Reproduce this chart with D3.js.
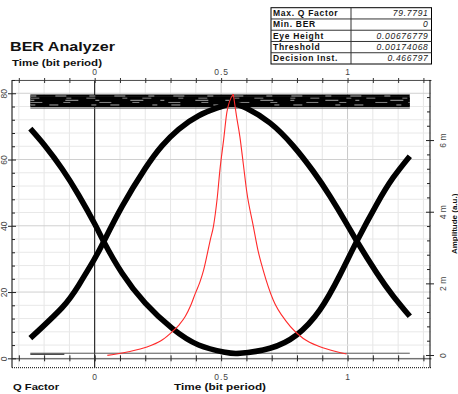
<!DOCTYPE html>
<html>
<head>
<meta charset="utf-8">
<script src="https://cdn.jsdelivr.net/npm/d3@7"></script>
<style>
  body { margin: 0; background: #fff; overflow: hidden; }
  svg { display: block; font-family: "Liberation Sans", Arial, sans-serif; }
</style>
</head>
<body>
<div id="chart"></div>
<script>
// values
const tableLabels = ['Max. Q Factor', 'Min. BER', 'Eye Height', 'Threshold', 'Decision Inst.'];
const tableValues = ['79.7791', '0', '0.00676779', '0.00174068', '0.466797'];

const timeLabels = [0, 0.5, 1];
const qLabels = [0, 20, 40, 60, 80];
const ampLabels = [0, 2, 4, 6];   // in m (milli a.u.)

// Q factor against decision time (red curve, left axis)
const qTime  = [0.050, 0.092, 0.134, 0.180, 0.227, 0.268, 0.306, 0.335, 0.358, 0.380, 0.398, 0.416, 0.431, 0.457, 0.470, 0.484, 0.496, 0.510, 0.523, 0.548,
                0.561, 0.574, 0.588, 0.601, 0.627, 0.646, 0.666, 0.706, 0.759, 0.825, 0.891, 0.957, 0.996];
const qValue = [0.9, 1.4, 2.0, 2.8, 4.0, 5.6, 8.0, 10.2, 12.6, 16.0, 19.6, 23.0, 26.7, 35.7, 40.0, 48.0, 57.4, 66.0, 74.4, 79.78,
                73.0, 67.0, 58.5, 50.5, 40.0, 32.5, 26.7, 17.6, 11.0, 6.0, 3.5, 2.0, 1.3];

// eye traces (right axis, m a.u.)
const traceATime = [-0.2545, -0.1953, -0.1292, -0.0632, 0.0024, 0.0356, 0.1079, 0.2, 0.3055, 0.4111, 0.515, 0.5743, 0.6929, 0.7984, 0.8906, 0.9696, 1.0356, 1.1146, 1.1802, 1.2462];
const traceAAmp  = [6.32, 5.83, 5.20, 4.46, 3.63, 3.17, 2.29, 1.45, 0.75, 0.28, 0.075, 0.047, 0.19, 0.56, 1.26, 2.23, 3.16, 4.2, 4.95, 5.55];
const traceBTime = [-0.2545, -0.1292, -0.0632, -0.004, 0.0356, 0.1079, 0.2, 0.266, 0.332, 0.4111, 0.4901, 0.5427, 0.6008, 0.6929, 0.785, 0.864, 0.93, 0.996, 1.0356, 1.1146, 1.1802, 1.2462];
const traceBAmp  = [0.47, 1.32, 1.95, 2.64, 3.16, 4.14, 5.21, 5.84, 6.30, 6.68, 6.91, 7.01, 6.89, 6.48, 5.84, 5.13, 4.44, 3.67, 3.19, 2.30, 1.65, 1.08];

const railSpan = [-0.2545, 1.2462];
const railOneLevels = [7.24, 7.19, 7.14, 7.09, 7.04, 6.99, 6.95];
const railOneEdge = 6.89;
const railZero = 0.05;
const streakLevels = [7.23, 7.17, 7.11, 7.05, 6.98];

const W = 458, H = 394;
const svg = d3.select('#chart').append('svg')
  .attr('width', W).attr('height', H);

const plot = { left: 12, right: 431, top: 80, bottom: 367.7 };

const x = d3.scaleLinear([-0.327, 1.330], [plot.left, plot.right]);
const yQ = d3.scaleLinear([-2.83, 84], [plot.bottom, plot.top]);
const yA = d3.scaleLinear([-0.354, 7.677], [plot.bottom, plot.top]);

// grid
const vGrid = d3.range(-3, 14).map(d => d / 10);
const hGrid = d3.range(0, 85, 4);
svg.append('g').selectAll('line').data(vGrid).join('line')
  .attr('x1', d => x(d)).attr('x2', d => x(d))
  .attr('y1', plot.top).attr('y2', plot.bottom)
  .attr('stroke', d => Math.abs(d * 10 % 5) < 1e-6 ? '#c8c8c8' : '#e6e6e6');
svg.append('g').selectAll('line').data(hGrid).join('line')
  .attr('x1', plot.left).attr('x2', plot.right)
  .attr('y1', d => yQ(d)).attr('y2', d => yQ(d))
  .attr('stroke', d => d % 20 === 0 ? '#d0d0d0' : '#e8e8e8');

// zero time line
svg.append('line')
  .attr('x1', x(0)).attr('x2', x(0))
  .attr('y1', plot.top).attr('y2', plot.bottom)
  .attr('stroke', '#111');

// rails
const rails = svg.append('g');
rails.selectAll('line.one').data(railOneLevels).join('line')
  .attr('class', 'one')
  .attr('x1', x(railSpan[0])).attr('x2', x(railSpan[1]))
  .attr('y1', d => yA(d)).attr('y2', d => yA(d))
  .attr('stroke', '#000').attr('stroke-width', 2.4);
rails.append('line')
  .attr('x1', x(railSpan[0])).attr('x2', x(railSpan[1]))
  .attr('y1', yA(railOneEdge)).attr('y2', yA(railOneEdge))
  .attr('stroke', '#666').attr('stroke-width', 1);
rails.selectAll('line.streak').data(streakLevels).join('line')
  .attr('class', 'streak')
  .attr('x1', x(railSpan[0])).attr('x2', x(railSpan[1]))
  .attr('y1', d => yA(d)).attr('y2', d => yA(d))
  .attr('stroke', (d, i) => i % 2 ? '#bbb' : '#eee').attr('stroke-width', 0.7)
  .attr('stroke-dasharray', (d, i) => ['6 19 11 23', '9 27 5 15', '4 31 13 17', '12 21 7 29', '5 14 9 33'][i]);
rails.append('line')
  .attr('x1', x(railSpan[0])).attr('x2', x(railSpan[1]))
  .attr('y1', yA(railZero)).attr('y2', yA(railZero))
  .attr('stroke', '#555').attr('stroke-width', 1);
rails.append('line')
  .attr('x1', x(railSpan[0])).attr('x2', x(-0.12))
  .attr('y1', yA(railZero) + 1).attr('y2', yA(railZero) + 1)
  .attr('stroke', '#111').attr('stroke-width', 1.2);

// eye traces
const eyeLine = d3.line().curve(d3.curveNatural);
const traces = [
  d3.zip(traceATime, traceAAmp),
  d3.zip(traceBTime, traceBAmp)
];
svg.append('g').selectAll('path').data(traces).join('path')
  .attr('d', d => eyeLine(d.map(p => [x(p[0]), yA(p[1])])))
  .attr('fill', 'none')
  .attr('stroke', '#000')
  .attr('stroke-width', 5.6);

// Q factor curve, drawn in two halves so the peak stays sharp
const peak = d3.maxIndex(qValue);
const qPts = d3.zip(qTime, qValue).map(p => [x(p[0]), yQ(p[1])]);
const qLine = d3.line().curve(d3.curveMonotoneX);
svg.append('g').selectAll('path').data([qPts.slice(0, peak + 1), qPts.slice(peak)]).join('path')
  .attr('d', qLine)
  .attr('fill', 'none')
  .attr('stroke', '#ff2a2a')
  .attr('stroke-width', 1.1);

// axes
const fmtT = d => timeLabels.some(v => Math.abs(v - d) < 1e-6) ? d3.format('~g')(d) : '';
const tTicks = d3.range(-3, 14).map(d => d / 10);

const topAxis = svg.append('g')
  .attr('transform', `translate(0,${plot.top})`)
  .call(d3.axisTop(x).tickValues(tTicks).tickFormat(fmtT).tickSizeInner(3).tickSizeOuter(0).tickPadding(2));
topAxis.select('.domain').attr('stroke', '#555');
topAxis.selectAll('.tick line').attr('y2', 3).attr('y1', -2).attr('stroke', '#333');

const bottomAxis = svg.append('g')
  .attr('transform', `translate(0,${yQ(0)})`)
  .call(d3.axisBottom(x).tickValues(tTicks).tickFormat(fmtT).tickSizeInner(3).tickSizeOuter(0).tickPadding(13));
bottomAxis.select('.domain').attr('stroke', '#444');
bottomAxis.selectAll('.tick line').attr('y1', -3).attr('stroke', '#222');

// bottom dotted frame
svg.append('line')
  .attr('x1', plot.left).attr('x2', plot.right)
  .attr('y1', plot.bottom).attr('y2', plot.bottom)
  .attr('stroke', '#000').attr('stroke-dasharray', '1 1');

const qTickVals = d3.range(0, 85, 4);
const leftAxis = svg.append('g')
  .attr('transform', `translate(${plot.left},0)`)
  .call(d3.axisLeft(yQ).tickValues(qTickVals)
    .tickFormat(d => qLabels.includes(d) ? d : '')
    .tickSizeInner(3).tickSizeOuter(0).tickPadding(2));
leftAxis.select('.domain').attr('stroke', '#000').attr('d', `M0,${plot.top}V${plot.bottom}`);
leftAxis.selectAll('.tick line')
  .attr('x1', d => qLabels.includes(d) ? 4 : 3)
  .attr('x2', d => qLabels.includes(d) ? -4 : 0)
  .attr('stroke', '#222');
leftAxis.selectAll('.tick text')
  .attr('x', 0).attr('dy', 0)
  .attr('transform', 'translate(-5,0) rotate(-90)')
  .attr('text-anchor', 'middle');

const ampTickVals = d3.range(0, 19).map(d => d * 0.4);
const isAmpLabel = d => ampLabels.some(v => Math.abs(v - d) < 1e-6);
const rightAxis = svg.append('g')
  .attr('transform', `translate(430,0)`)
  .call(d3.axisRight(yA).tickValues(ampTickVals)
    .tickFormat(d => isAmpLabel(d) ? (d === 0 ? '0' : d3.format('~g')(d) + ' m') : '')
    .tickSizeInner(3).tickSizeOuter(0).tickPadding(2));
rightAxis.select('.domain').attr('stroke', '#000').attr('d', `M0,${plot.top}V${plot.bottom}`);
rightAxis.selectAll('.tick line')
  .attr('x1', d => isAmpLabel(d) ? -4 : -3)
  .attr('x2', d => isAmpLabel(d) ? 4 : 0)
  .attr('stroke', '#222');
rightAxis.selectAll('.tick text')
  .attr('x', 0).attr('dy', 0)
  .attr('transform', 'translate(16,0) rotate(-90)')
  .attr('text-anchor', 'middle');

svg.selectAll('.tick text')
  .attr('font-family', '"Liberation Sans", Arial, sans-serif')
  .attr('font-size', 8.5)
  .attr('fill', '#444');
topAxis.selectAll('.tick text').attr('letter-spacing', 1);
bottomAxis.selectAll('.tick text').attr('letter-spacing', 1);

// titles
svg.append('text')
  .attr('x', 10).attr('y', 51)
  .attr('font-size', 12.5).attr('font-weight', 'bold').attr('fill', '#111')
  .attr('textLength', 105).attr('lengthAdjust', 'spacingAndGlyphs')
  .text('BER Analyzer');
svg.append('text')
  .attr('x', 12).attr('y', 66)
  .attr('font-size', 9).attr('font-weight', 'bold').attr('fill', '#111')
  .attr('textLength', 90).attr('lengthAdjust', 'spacingAndGlyphs')
  .text('Time (bit period)');
svg.append('text')
  .attr('x', 174).attr('y', 390)
  .attr('font-size', 9).attr('font-weight', 'bold').attr('fill', '#111')
  .attr('textLength', 92).attr('lengthAdjust', 'spacingAndGlyphs')
  .text('Time (bit period)');
svg.append('text')
  .attr('x', 13).attr('y', 390)
  .attr('font-size', 9).attr('font-weight', 'bold').attr('fill', '#111')
  .attr('textLength', 46).attr('lengthAdjust', 'spacingAndGlyphs')
  .text('Q Factor');
svg.append('text')
  .attr('transform', `translate(457,${(plot.top + plot.bottom) / 2}) rotate(-90)`)
  .attr('text-anchor', 'middle')
  .attr('font-size', 8).attr('font-weight', 'bold').attr('fill', '#111')
  .text('Amplitude (a.u.)');

// results table
const tbl = { x0: 271, x1: 431.5, split: 351, y0: 7.7, rowH: 11.26 };
const table = svg.append('g');
table.append('rect')
  .attr('x', tbl.x0).attr('y', tbl.y0)
  .attr('width', tbl.x1 - tbl.x0).attr('height', tbl.rowH * tableLabels.length)
  .attr('fill', '#fff').attr('stroke', '#000');
table.append('line')
  .attr('x1', tbl.split).attr('x2', tbl.split)
  .attr('y1', tbl.y0).attr('y2', tbl.y0 + tbl.rowH * tableLabels.length)
  .attr('stroke', '#333');
table.selectAll('line.row').data(tableLabels.slice(1)).join('line')
  .attr('class', 'row')
  .attr('x1', tbl.x0).attr('x2', tbl.x1)
  .attr('y1', (d, i) => tbl.y0 + tbl.rowH * (i + 1))
  .attr('y2', (d, i) => tbl.y0 + tbl.rowH * (i + 1))
  .attr('stroke', '#333');
table.selectAll('text.lab').data(tableLabels).join('text')
  .attr('class', 'lab')
  .attr('x', tbl.x0 + 2).attr('y', (d, i) => tbl.y0 + tbl.rowH * i + 8.5)
  .attr('font-size', 8.5).attr('font-weight', 'bold').attr('fill', '#111')
  .attr('letter-spacing', 0.7)
  .text(d => d);
table.selectAll('text.val').data(tableValues).join('text')
  .attr('class', 'val')
  .attr('x', tbl.x1 - 3).attr('y', (d, i) => tbl.y0 + tbl.rowH * i + 8.5)
  .attr('text-anchor', 'end')
  .attr('font-size', 8.5).attr('font-style', 'italic').attr('fill', '#222')
  .attr('letter-spacing', 0.7)
  .text(d => d);
</script>
</body>
</html>
